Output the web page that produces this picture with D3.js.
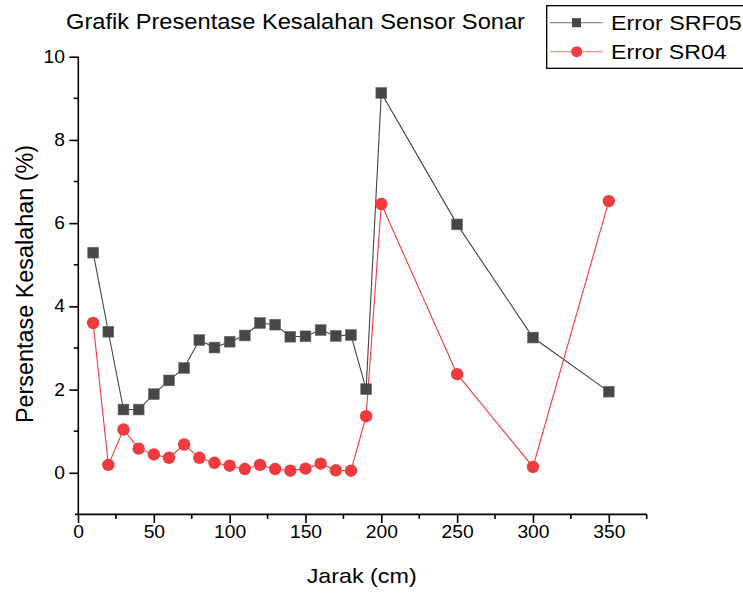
<!DOCTYPE html>
<html><head><meta charset="utf-8">
<script src="https://cdn.jsdelivr.net/npm/d3@7"></script>
<style>body{margin:0;background:#fff}svg{display:block;font-family:"Liberation Sans",Arial,sans-serif}</style>
</head><body><svg id="c" width="743" height="593"></svg>
<script>
const distances = [10,20,30,40,50,60,70,80,90,100,110,120,130,140,150,160,170,180,190,200,250,300,350];
const errorSRF05 = [5.29,3.39,1.52,1.52,1.89,2.22,2.52,3.19,3.01,3.15,3.30,3.60,3.56,3.27,3.28,3.43,3.29,3.31,2.01,9.13,5.97,3.25,1.95];
const errorSR04 = [3.60,0.19,1.04,0.58,0.44,0.36,0.68,0.36,0.24,0.17,0.09,0.19,0.09,0.05,0.10,0.22,0.06,0.05,1.36,6.46,2.37,0.14,6.53];
const xTicks = [0,50,100,150,200,250,300,350];
const yTicks = [0,2,4,6,8,10];
const seriesNames = ["Error SRF05","Error SR04"];

const svg = d3.select("#c");
const x = d3.scaleLinear().domain([0,375]).range([78,646.7]);
const y = d3.scaleLinear().domain([-1,10]).range([514.4,56.7]);

// axes
const xAxis = d3.axisBottom(x).tickValues(xTicks).tickSize(8.5).tickPadding(3).tickFormat(d3.format("d"));
const gx = svg.append("g").attr("transform","translate(0,514.4)").call(xAxis);
gx.select(".domain").attr("d",`M${x(0)-3},0H${x(375)}`);
gx.selectAll(".minor").data(d3.range(25,376,50)).enter().append("line")
  .attr("x1",d=>x(d)).attr("x2",d=>x(d)).attr("y1",0).attr("y2",4.5).attr("stroke","#000");
const yAxis = d3.axisLeft(y).tickValues(yTicks).tickSize(9).tickPadding(5);
const gy = svg.append("g").attr("transform","translate(78.3,0)").call(yAxis);
gy.select(".domain").attr("d",`M0,${y(10)}V${y(-1)}`);
gy.selectAll(".minor").data([1,3,5,7,9]).enter().append("line")
  .attr("y1",d=>y(d)).attr("y2",d=>y(d)).attr("x1",0).attr("x2",-4.5).attr("stroke","#000");
[gx,gy].forEach(g=>{
  g.selectAll("path,line").attr("stroke","#000").attr("stroke-width",1.6);
  g.selectAll("text").attr("font-size",17.5).attr("fill","#000")
   .attr("font-family","Liberation Sans, Arial, sans-serif").attr("transform","scale(1.1,1)");
});
gy.selectAll(".tick text").attr("x",-13.4/1.1);

// lines
const seriesLine = d3.line().x((d,i)=>x(distances[i])).y(d=>y(d));
svg.append("path").datum(errorSRF05).attr("d",seriesLine).attr("fill","none").attr("stroke","#444").attr("stroke-width",1.1);
svg.append("path").datum(errorSR04).attr("d",seriesLine).attr("fill","none").attr("stroke","#f03a3f").attr("stroke-width",1.1);

// markers
svg.append("g").selectAll("rect").data(errorSRF05).enter().append("rect")
  .attr("x",(d,i)=>x(distances[i])-5.4).attr("y",d=>y(d)-5.4).attr("width",10.8).attr("height",10.8)
  .attr("fill","#474747").attr("stroke","#6a6a6a").attr("stroke-width",0.6);
svg.append("g").selectAll("circle").data(errorSR04).enter().append("circle")
  .attr("cx",(d,i)=>x(distances[i])).attr("cy",d=>y(d)).attr("r",6.2)
  .attr("fill","#ef3b3f");

// titles
svg.append("text").attr("x",66).attr("y",28.5).attr("font-size",22)
  .attr("textLength",459).attr("lengthAdjust","spacingAndGlyphs")
  .text("Grafik Presentase Kesalahan Sensor Sonar");
svg.append("text").attr("x",306.7).attr("y",583.3).attr("font-size",21)
  .attr("textLength",110).attr("lengthAdjust","spacingAndGlyphs")
  .text("Jarak (cm)");
svg.append("text").attr("transform","translate(32.7,423) rotate(-90)").attr("font-size",23)
  .attr("textLength",278).attr("lengthAdjust","spacingAndGlyphs")
  .text("Persentase Kesalahan (%)");

// legend
const lg = svg.append("g");
lg.append("rect").attr("x",546.7).attr("y",5.7).attr("width",200).attr("height",62.6)
  .attr("fill","#fff").attr("stroke","#000").attr("stroke-width",1.3);
const lc = [["#888","#474747","rect",130.7],["#f88","#ef3b3f","circle",115.7]];
seriesNames.forEach((n,i)=>{
  const cy = 22.7 + i*29;
  lg.append("line").attr("x1",550).attr("x2",602.7).attr("y1",cy).attr("y2",cy).attr("stroke",lc[i][0]).attr("stroke-width",1.3);
  if(lc[i][2]==="rect") lg.append("rect").attr("x",576.5-4.5).attr("y",cy-4.5).attr("width",9).attr("height",9).attr("fill",lc[i][1]);
  else lg.append("circle").attr("cx",576.7).attr("cy",cy).attr("r",5.5).attr("fill",lc[i][1]);
  lg.append("text").attr("x",611).attr("y",cy+7.4).attr("font-size",21)
    .attr("textLength",lc[i][3]).attr("lengthAdjust","spacingAndGlyphs").text(n);
});
</script></body></html>
